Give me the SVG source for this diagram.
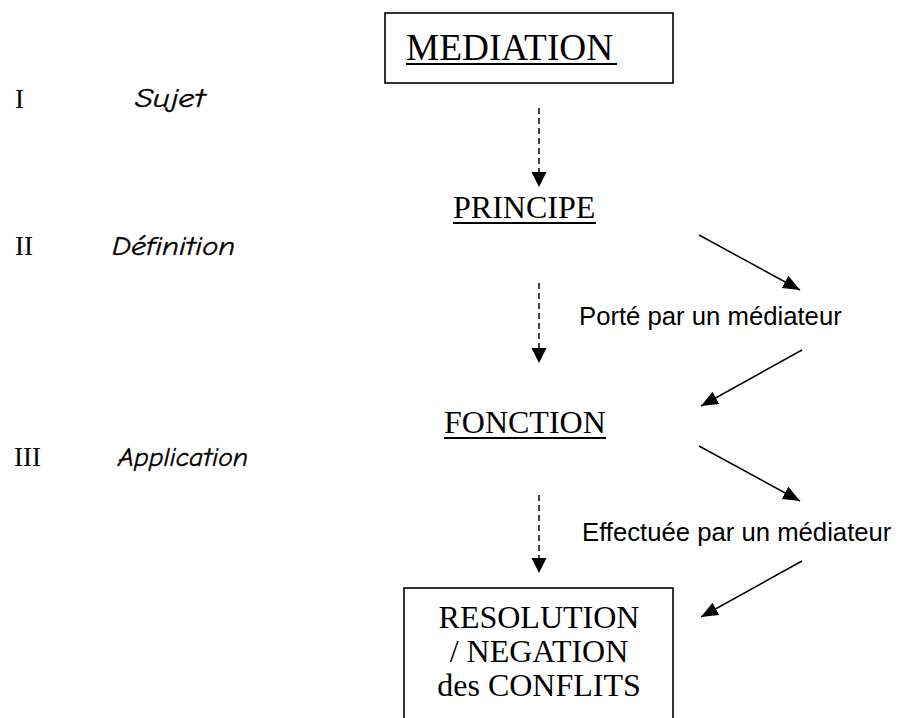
<svg xmlns="http://www.w3.org/2000/svg" width="906" height="718" viewBox="0 0 906 718">
<style>
.serif{font-family:"Liberation Serif","Times New Roman",serif;fill:#000}
.sans{font-family:"Liberation Sans",Arial,sans-serif;fill:#000;font-size:25.7px}
.comic{font-family:"Comic Sans MS","Comic Neue","Noto Sans",sans-serif;font-style:italic;fill:#000;stroke:#000;stroke-width:0.4;font-size:27px}
.box{fill:#fff;stroke:#000;stroke-width:1.6}
.ul{stroke:#000;stroke-width:2}
.dash{stroke:#000;stroke-width:1.5;stroke-dasharray:6 4;fill:none}
.solid{stroke:#000;stroke-width:1.5;fill:none}
</style>
<defs>
<marker id="hd" markerUnits="userSpaceOnUse" markerWidth="16" markerHeight="16" refX="15" refY="7.5" orient="auto" viewBox="0 0 16 16">
<path d="M0,0 L15,7.5 L0,15 z" fill="#000" stroke="none"/>
</marker>
<marker id="hs" markerUnits="userSpaceOnUse" markerWidth="18" markerHeight="16" refX="17" refY="7" orient="auto" viewBox="0 0 18 16">
<path d="M0,0 L17,7 L0,14 z" fill="#000" stroke="none"/>
</marker>
</defs>

<g id="labels-left">
<text class="serif" x="15" y="108" font-size="27">I</text>
<text class="comic" x="135" y="107" textLength="70" lengthAdjust="spacingAndGlyphs">Sujet</text>
<text class="serif" x="15" y="255" font-size="27">II</text>
<text class="comic" x="112" y="255" textLength="123" lengthAdjust="spacingAndGlyphs">Définition</text>
<text class="serif" x="14" y="466" font-size="27">III</text>
<text class="comic" x="118" y="466" textLength="130" lengthAdjust="spacingAndGlyphs">Application</text>
</g>

<g id="node-mediation">
<rect class="box" x="385" y="13" width="288" height="70"/>
<text class="serif" x="406" y="60" font-size="37.3">MEDIATION</text>
<line class="ul" x1="406" y1="64" x2="617" y2="64"/>
</g>

<g id="node-principe">
<text class="serif" x="453" y="218" font-size="32">PRINCIPE</text>
<line class="ul" x1="453" y1="223" x2="596" y2="223"/>
</g>

<g id="node-fonction">
<text class="serif" x="444" y="433" font-size="32">FONCTION</text>
<line class="ul" x1="444" y1="438" x2="606" y2="438"/>
</g>

<g id="node-resolution">
<rect class="box" x="404" y="588" width="269" height="140"/>
<text class="serif" x="539" y="628" font-size="32" text-anchor="middle">RESOLUTION</text>
<text class="serif" x="539" y="662" font-size="32" text-anchor="middle">/ NEGATION</text>
<text class="serif" x="539" y="696" font-size="32" text-anchor="middle">des CONFLITS</text>
</g>

<g id="label-porte">
<text class="sans" x="579" y="325">Porté par un médiateur</text>
</g>

<g id="label-effectuee">
<text class="sans" x="582" y="541">Effectuée par un médiateur</text>
</g>

<g id="connectors">
<line class="dash" x1="539" y1="108" x2="539" y2="187" marker-end="url(#hd)"/>
<line class="dash" x1="539" y1="283" x2="539" y2="363" marker-end="url(#hd)"/>
<line class="dash" x1="539" y1="495" x2="539" y2="573" marker-end="url(#hd)"/>
<line class="solid" x1="699" y1="235" x2="800" y2="290" marker-end="url(#hs)"/>
<line class="solid" x1="802" y1="350" x2="701" y2="406" marker-end="url(#hs)"/>
<line class="solid" x1="699" y1="446" x2="800" y2="501" marker-end="url(#hs)"/>
<line class="solid" x1="802" y1="561" x2="701" y2="617" marker-end="url(#hs)"/>
</g>
</svg>
